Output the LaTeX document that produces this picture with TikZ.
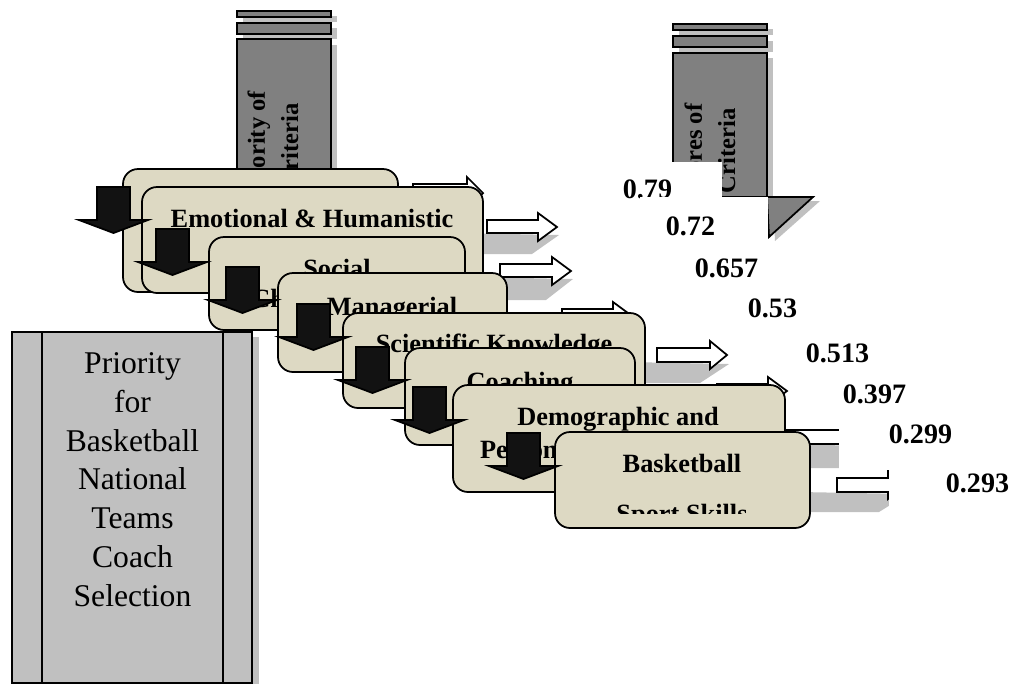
\documentclass[tikz,border=0pt]{standalone}
\usepackage{fontspec}
\setmainfont{Liberation Serif}

\definecolor{critfill}{RGB}{221,217,195}
\definecolor{colgray}{RGB}{128,128,128}
\definecolor{prigray}{RGB}{192,192,192}
\definecolor{shadegray}{RGB}{192,192,192}

\begin{document}
\begin{tikzpicture}[x=0.02cm, y=-0.02cm, line width=1pt,
        colbox/.style={draw=black, fill=colgray},
        shade/.style={fill=shadegray},
        critbox/.style={draw=black, fill=critfill, rounded corners=0.3cm},
        critlabel/.style={font=\fontsize{15}{18}\selectfont\bfseries, inner sep=0pt, anchor=base},
        coltext/.style={font=\fontsize{14}{19}\selectfont\bfseries, align=center, inner sep=0pt, rotate=90},
        blkarrow/.style={draw=black, fill=black!93, line join=miter},
        whtarrow/.style={draw=black, fill=white, line join=miter},
        score/.style={font=\fontsize{16}{19}\selectfont\bfseries, inner sep=0pt, anchor=base west}]

        \useasboundingbox (0,0) rectangle (1010,684);

        % left column
        \fill[shade] (243,16) rectangle (337,22);
        \fill[shade] (243,28) rectangle (337,39);
        \fill[shade] (243,45) rectangle (337,200);
        \draw[colbox] (237,11) rectangle (331,17);
        \draw[colbox] (237,23) rectangle (331,34);
        \draw[colbox] (237,39) rectangle (331,200);
        \node[coltext] (pricrit) at (273,146) {Priority of\\Criteria};

        % right column
        \fill[shade] (679,29) rectangle (773,35);
        \fill[shade] (679,41) rectangle (773,52);
        \fill[shade] (679,58) rectangle (773,200);
        \fill[shade] (773,201) -- (820,201) -- (775,241) -- cycle;
        \draw[colbox] (673,24) rectangle (767,30);
        \draw[colbox] (673,36) rectangle (767,47);
        \draw[colbox] (673,53) rectangle (767,197);
        \draw[colbox] (767,197) -- (813,197) -- (769,237) -- cycle;
        \node[coltext] (scorecrit) at (710,151) {Scores of\\Criteria};

        % priority box
        \fill[shade] (252,337) rectangle (259,684);
        \draw[draw=black, fill=prigray] (12,332) rectangle (252,683);
        \draw (42,332) -- (42,683);
        \draw (223,332) -- (223,683);
        \node[font=\fontsize{18}{22.1}\selectfont, align=center, inner sep=0pt] (prio) at (132.5,479.5)
            {Priority\\for\\Basketball\\National\\Teams\\Coach\\Selection};

        % shadows of the white arrows
        \fill[shade] (457,233) -- (559,235) -- (532,254) -- (457,254) -- cycle;
        \fill[shade] (470,277) -- (573,279) -- (546,300) -- (470,300) -- cycle;
        \fill[shade] (627,362) -- (729,364) -- (700,383) -- (627,383) -- cycle;
        \fill[shade] (760,444) -- (881,446) -- (852,468) -- (760,468) -- cycle;
        \fill[shade] (800,492) -- (908,494) -- (879,512) -- (800,512) -- cycle;

        % white arrows
        \draw[whtarrow] (413,184) -- (467,184) -- (467,177) -- (483,193) -- (467,209) -- (467,202) -- (413,202) -- cycle;
        \draw[whtarrow] (487,220) -- (538,220) -- (538,213) -- (557,227) -- (538,241) -- (538,233) -- (487,233) -- cycle;
        \draw[whtarrow] (500,264) -- (552,264) -- (552,257) -- (571,271) -- (552,285) -- (552,277) -- (500,277) -- cycle;
        \draw[whtarrow] (562,309) -- (613,309) -- (613,302) -- (632,316) -- (613,330) -- (613,323) -- (562,323) -- cycle;
        \draw[whtarrow] (657,348) -- (710,348) -- (710,341) -- (727,355) -- (710,369) -- (710,362) -- (657,362) -- cycle;
        \draw[whtarrow] (717,384) -- (768,384) -- (768,377) -- (787,391) -- (768,405) -- (768,398) -- (717,398) -- cycle;
        \draw[whtarrow] (770,430) -- (860,430) -- (860,423) -- (879,437) -- (860,451) -- (860,444) -- (770,444) -- cycle;
        \draw[whtarrow] (837,478) -- (888,478) -- (888,470) -- (906,485) -- (888,499) -- (888,492) -- (837,492) -- cycle;

        % criteria boxes
        \draw[critbox] (123,169) rectangle (398,292);

        \draw[critbox] (142,187) rectangle (483,293);
        \node[critlabel] (emolabel) at (312,227) {Emotional \& Humanistic};

        \draw[critbox] (209,237) rectangle (465,330);
        \node[critlabel] (soclabel) at (337,277) {Social};
        \node[critlabel] (soclabelb) at (337,307) {Characteristics};

        \draw[critbox] (278,273) rectangle (507,372);
        \node[critlabel] (mgrlabel) at (392,315) {Managerial};

        \draw[critbox] (343,313) rectangle (645,408);
        \node[critlabel] (scilabel) at (494,352) {Scientific Knowledge};

        \draw[critbox] (405,348) rectangle (635,445);
        \node[critlabel] (coalabel) at (520,390) {Coaching};

        \draw[critbox] (453,385) rectangle (785,492);
        \node[critlabel] (demlabel) at (618,425) {Demographic and};
        \node[critlabel] (demlabelb) at (618,458) {Personal Characteristics};

        \draw[critbox] (555,432) rectangle (810,528);
        \node[critlabel] (bbllabel) at (682,472) {Basketball};
        \begin{scope}
            \clip (555,432) rectangle (810,513);
            \node[critlabel] (bbllabelb) at (682,522) {Sport Skills};
        \end{scope}

        % black arrows
        \draw[blkarrow] (97,187) -- ++(33,0) -- ++(0,33) -- ++(18,0) -- ++(-34.5,13) -- ++(-34.5,-13) -- ++(18,0) -- cycle;
        \draw[blkarrow] (156,229) -- ++(33,0) -- ++(0,33) -- ++(18,0) -- ++(-34.5,13) -- ++(-34.5,-13) -- ++(18,0) -- cycle;
        \draw[blkarrow] (226,267) -- ++(33,0) -- ++(0,33) -- ++(18,0) -- ++(-34.5,13) -- ++(-34.5,-13) -- ++(18,0) -- cycle;
        \draw[blkarrow] (297,304) -- ++(33,0) -- ++(0,33) -- ++(18,0) -- ++(-34.5,13) -- ++(-34.5,-13) -- ++(18,0) -- cycle;
        \draw[blkarrow] (356,347) -- ++(33,0) -- ++(0,33) -- ++(18,0) -- ++(-34.5,13) -- ++(-34.5,-13) -- ++(18,0) -- cycle;
        \draw[blkarrow] (413,387) -- ++(33,0) -- ++(0,33) -- ++(18,0) -- ++(-34.5,13) -- ++(-34.5,-13) -- ++(18,0) -- cycle;
        \draw[blkarrow] (507,433) -- ++(33,0) -- ++(0,33) -- ++(18,0) -- ++(-34.5,13) -- ++(-34.5,-13) -- ++(18,0) -- cycle;

        % scores
        \fill[white] (600,162) rectangle (722,197);
        \node[score] (s1) at (622,198) {0.79};
        \fill[white] (640,197) rectangle (768,245);
        \node[score] (s2) at (665,235) {0.72};
        \node[score] (s3) at (694,277) {0.657};
        \node[score] (s4) at (747,317) {0.53};
        \node[score] (s5) at (805,362) {0.513};
        \node[score] (s6) at (842,403) {0.397};
        \fill[white] (839,415) rectangle (980,470);
        \node[score] (s7) at (888,443) {0.299};
        \fill[white] (889,468) rectangle (1010,515);
        \node[score] (s8) at (945,492) {0.293};
\end{tikzpicture}
\end{document}
